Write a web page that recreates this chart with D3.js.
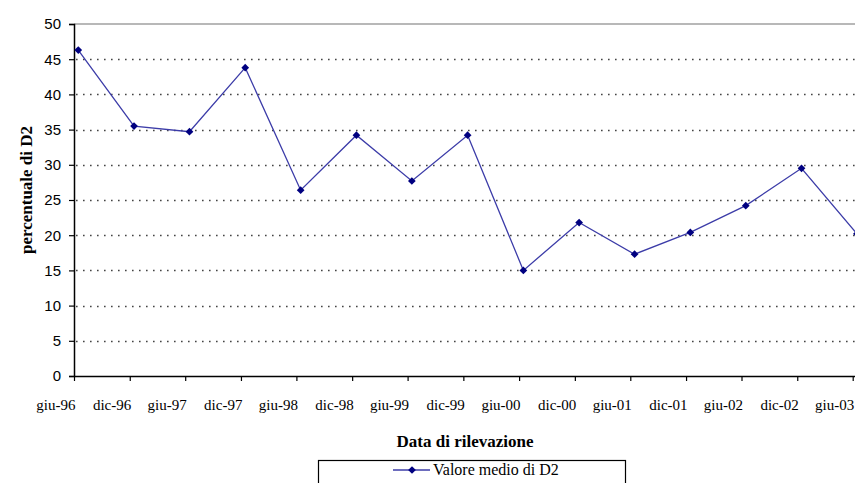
<!DOCTYPE html>
<html>
<head>
<meta charset="utf-8">
<script src="https://cdn.jsdelivr.net/npm/d3@7"></script>
<style>
  html, body { margin: 0; padding: 0; background: #fff; overflow: hidden; }
  svg { display: block; }
</style>
</head>
<body>
<svg id="chart" width="855" height="483"></svg>
<script>
// Survey dates (mid-month) and the mean D2 percentage at each survey
const surveyDates = [
  "1996-06-15", "1996-12-15", "1997-06-15", "1997-12-15", "1998-06-15",
  "1998-12-15", "1999-06-15", "1999-12-15", "2000-06-15", "2000-12-15",
  "2001-06-15", "2001-12-15", "2002-06-15", "2002-12-15", "2003-06-15"
];
const meanD2 = [46.3, 35.5, 34.7, 43.8, 26.4, 34.2, 27.7, 34.2, 15.0, 21.8, 17.3, 20.4, 24.2, 29.5, 20.2];

// Axis ticks: first day of June and December
const tickDates = [
  "1996-06-01", "1996-12-01", "1997-06-01", "1997-12-01", "1998-06-01",
  "1998-12-01", "1999-06-01", "1999-12-01", "2000-06-01", "2000-12-01",
  "2001-06-01", "2001-12-01", "2002-06-01", "2002-12-01", "2003-06-01"
];
const tickLabels = [
  "giu-96", "dic-96", "giu-97", "dic-97", "giu-98", "dic-98", "giu-99", "dic-99",
  "giu-00", "dic-00", "giu-01", "dic-01", "giu-02", "dic-02", "giu-03"
];
const yTicks = [0, 5, 10, 15, 20, 25, 30, 35, 40, 45, 50];

const parse = d3.timeParse("%Y-%m-%d");
const points = surveyDates.map((d, i) => ({ date: parse(d), value: meanD2[i] }));
const ticks = tickDates.map(parse);

const svg = d3.select("#chart");
const plotLeft = 74, plotTop = 24, plotBottom = 376, plotRight = 852.7;

const x = d3.scaleTime()
  .domain([ticks[0], ticks[ticks.length - 1]])
  .range([plotLeft, plotRight]);
const y = d3.scaleLinear().domain([0, 50]).range([plotBottom, plotTop]);

const serif = '"Liberation Serif", "Times New Roman", serif';
const sans = '"Liberation Sans", Arial, sans-serif';

// Dotted horizontal gridlines
svg.append("g")
  .selectAll("line")
  .data(yTicks.filter(v => v > 0 && v < 50))
  .join("line")
  .attr("x1", plotLeft + 2).attr("x2", 870)
  .attr("y1", d => Math.round(y(d)) + 0.5).attr("y2", d => Math.round(y(d)) + 0.5)
  .attr("stroke", "#444")
  .attr("stroke-width", 1.3)
  .attr("stroke-dasharray", "1.6,5.4");

// Top border of plot area
svg.append("line")
  .attr("x1", plotLeft).attr("x2", 870)
  .attr("y1", y(50)).attr("y2", y(50))
  .attr("stroke", "#a0a0a0").attr("stroke-width", 1.6);

// Y axis
const yAxis = d3.axisLeft(y).tickValues(yTicks).tickSize(5).tickPadding(8);
const gy = svg.append("g").attr("transform", `translate(${plotLeft},0)`).call(yAxis);
gy.select(".domain").attr("stroke", "#000").attr("stroke-width", 1.5);
gy.selectAll(".tick line").attr("stroke", "#000").attr("stroke-width", 1.2);
gy.selectAll(".tick text")
  .style("font-family", sans).style("font-size", "15px").attr("fill", "#000");

// X axis
const xAxis = d3.axisBottom(x).tickValues(ticks).tickSize(5).tickFormat((d, i) => tickLabels[i]);
const gx = svg.append("g").attr("transform", `translate(0,${plotBottom})`).call(xAxis);
gx.select(".domain").attr("d", `M${plotLeft},0.5H870`).attr("stroke", "#000").attr("stroke-width", 1.5);
gx.selectAll(".tick line").attr("stroke", "#000").attr("stroke-width", 1.2);
gx.selectAll(".tick text")
  .style("font-family", serif).style("font-size", "15px").attr("fill", "#000")
  .attr("text-anchor", "end")
  .attr("x", 1)
  .attr("y", 0).attr("dy", null)
  .attr("transform", "translate(0,34)");

// Data line and markers
svg.append("path")
  .datum(points)
  .attr("fill", "none")
  .attr("stroke", "#3c3ca8")
  .attr("stroke-width", 1.3)
  .attr("d", d3.line().x(d => x(d.date)).y(d => y(d.value)));

const diamond = d3.symbol().type(d3.symbolDiamond2).size(38);
svg.append("g")
  .selectAll("path")
  .data(points)
  .join("path")
  .attr("transform", d => `translate(${x(d.date)},${y(d.value)})`)
  .attr("d", diamond)
  .attr("fill", "#000080");

// Axis titles
svg.append("text")
  .attr("transform", "translate(32,190) rotate(-90)")
  .attr("text-anchor", "middle")
  .style("font-family", serif).style("font-weight", "bold").style("font-size", "17px")
  .text("percentuale di D2");

svg.append("text")
  .attr("x", 465).attr("y", 447)
  .attr("text-anchor", "middle")
  .style("font-family", serif).style("font-weight", "bold").style("font-size", "17px")
  .text("Data di rilevazione");

// Legend
const legend = svg.append("g");
legend.append("rect")
  .attr("x", 318.5).attr("y", 460.5).attr("width", 307).attr("height", 40)
  .attr("fill", "#fff").attr("stroke", "#000").attr("stroke-width", 1.2);
legend.append("line")
  .attr("x1", 393).attr("x2", 430).attr("y1", 470).attr("y2", 470)
  .attr("stroke", "#3c3ca8").attr("stroke-width", 1.5);
legend.append("path")
  .attr("transform", "translate(412,470)")
  .attr("d", diamond)
  .attr("fill", "#000080");
legend.append("text")
  .attr("x", 433).attr("y", 475)
  .style("font-family", serif).style("font-size", "16px")
  .text("Valore medio di D2");
</script>
</body>
</html>
